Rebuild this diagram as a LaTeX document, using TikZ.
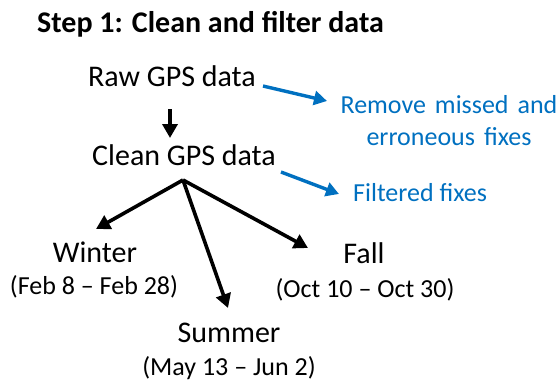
\documentclass[tikz,border=0pt]{standalone}
\usepackage{fontspec}
\setmainfont{Carlito}
\usetikzlibrary{arrows.meta}
\definecolor{offblue}{RGB}{0,112,192}
\tikzset{
  txt/.style={inner sep=0pt, anchor=base, font=\fontsize{30}{36}\selectfont},
  small/.style={inner sep=0pt, anchor=base, font=\fontsize{26}{32}\selectfont},
  bluetxt/.style={small, text=offblue, align=center},
  blk/.style={line width=3.6pt, -{Triangle[length=14pt,width=15pt]}},
  blu/.style={line width=3.4pt, draw=offblue, color=offblue, -{Triangle[length=13pt,width=14pt]}},
}
\begin{document}
\begin{tikzpicture}[x=1pt,y=-1pt]
\useasboundingbox (0,0) rectangle (558,383);
\node[inner sep=0pt, anchor=base west, font=\fontsize{30}{36}\selectfont\bfseries] (title) at (37,32) {Step 1: Clean and filter data};
\node[txt, anchor=base west] (raw) at (88,86) {Raw GPS data};
\node[txt, anchor=base west] (clean) at (92,165) {Clean GPS data};
\node[bluetxt] (remove) at (449,145) {Remove\hspace{0.12em} missed\hspace{0.12em} and\\erroneous\hspace{0.12em} fixes};
\node[bluetxt, anchor=base west] (filtered) at (353,201) {Filtered fixes};
\node[txt] (winter) at (95,262) {Winter};
\node[small] (winterd) at (94,294) {(Feb 8 – Feb 28)};
\node[txt] (fall) at (364,263) {Fall};
\node[small] (falld) at (365,297) {(Oct 10 – Oct 30)};
\node[txt] (summer) at (229,342) {Summer};
\node[small] (summerd) at (229,375) {(May 13 – Jun 2)};
\coordinate (dstart) at (170,109);
\coordinate (dend) at (170,138);
\coordinate (apex) at (183,180);
\coordinate (wend) at (96,229);
\coordinate (send) at (228,308);
\coordinate (fend) at (308,248);
\coordinate (rstart) at (263,86);
\coordinate (rend) at (327,101);
\coordinate (cstart) at (281,172);
\coordinate (cend) at (339,194);
\draw[blk] (dstart) -- (dend);
\draw[blk] (apex) -- (wend);
\draw[blk] (apex) -- (send);
\draw[blk] (apex) -- (fend);
\draw[blu] (rstart) -- (rend);
\draw[blu] (cstart) -- (cend);
\end{tikzpicture}
\end{document}
